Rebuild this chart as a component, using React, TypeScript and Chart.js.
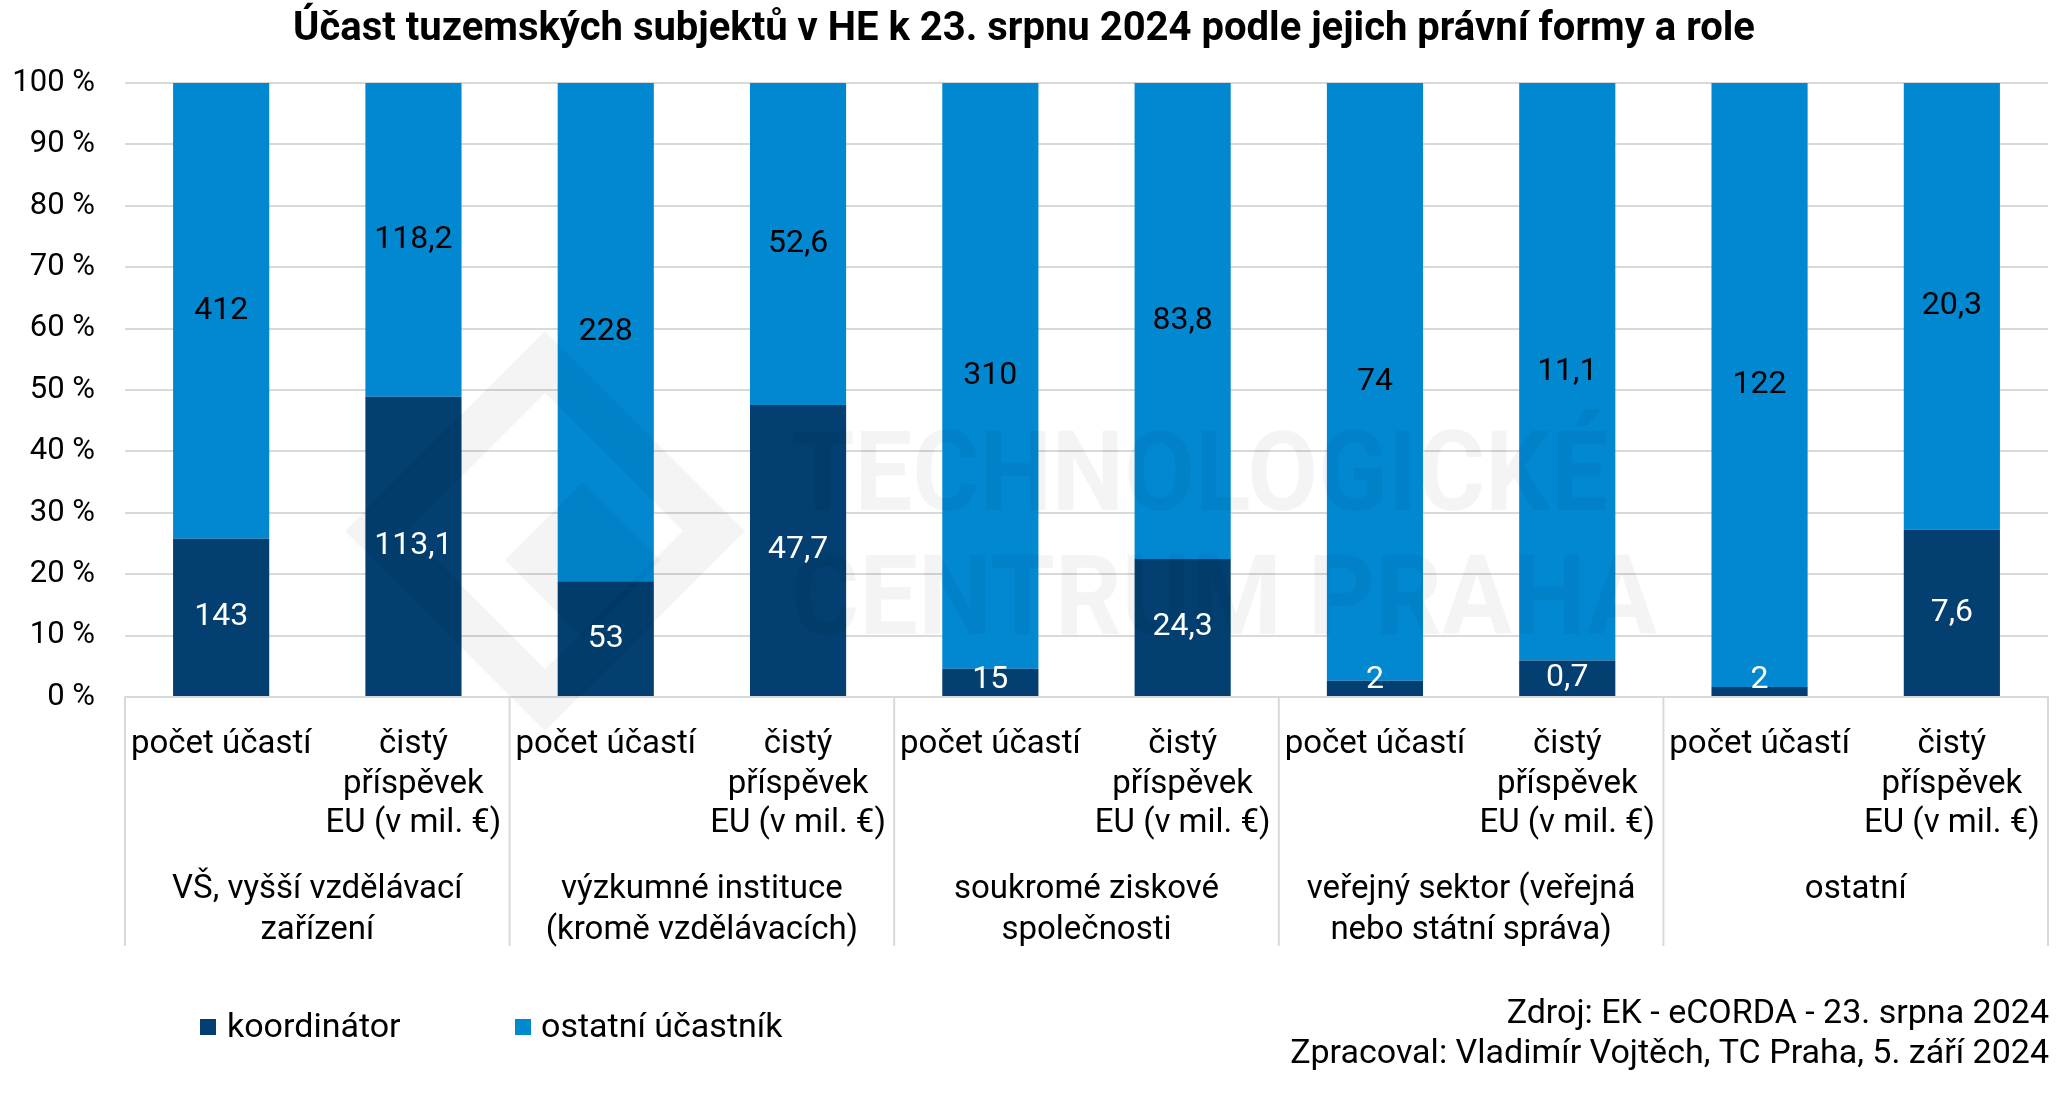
import React, { useEffect, useRef } from "react";
import { Chart, registerables } from "chart.js";

Chart.register(...registerables);

const FONT = "Roboto, 'Noto Sans', 'DejaVu Sans', sans-serif";

// ---- data ----
const titleText = "Účast tuzemských subjektů v HE k 23. srpnu 2024 podle jejich právní formy a role";

const barLabelLines: string[][] = [
  ["počet účastí"], ["čistý", "příspěvek", "EU (v mil. €)"],
  ["počet účastí"], ["čistý", "příspěvek", "EU (v mil. €)"],
  ["počet účastí"], ["čistý", "příspěvek", "EU (v mil. €)"],
  ["počet účastí"], ["čistý", "příspěvek", "EU (v mil. €)"],
  ["počet účastí"], ["čistý", "příspěvek", "EU (v mil. €)"],
];

const groupLabelLines: string[][] = [
  ["VŠ, vyšší vzdělávací", "zařízení"],
  ["výzkumné instituce", "(kromě vzdělávacích)"],
  ["soukromé ziskové", "společnosti"],
  ["veřejný sektor (veřejná", "nebo státní správa)"],
  ["ostatní"],
];

const coordinatorValues = [143, 113.1, 53, 47.7, 15, 24.3, 2, 0.7, 2, 7.6];
const otherValues = [412, 118.2, 228, 52.6, 310, 83.8, 74, 11.1, 122, 20.3];

const yTickValues = [0, 10, 20, 30, 40, 50, 60, 70, 80, 90, 100];

const seriesNames = ["koordinátor", "ostatní účastník"];
const seriesColors = ["#033F70", "#0288D1"];
const seriesLabelColors = ["#FFFFFF", "#000000"];

const sourceLines = [
  "Zdroj: EK - eCORDA - 23. srpna 2024",
  "Zpracoval: Vladimír Vojtěch, TC Praha, 5. září 2024",
];

const watermarkLines = ["TECHNOLOGICKÉ", "CENTRUM PRAHA"];

// ---- derived ----
const totals = coordinatorValues.map((v, i) => v + otherValues[i]);
const coordinatorPct = coordinatorValues.map((v, i) => (v / totals[i]) * 100);
const otherPct = otherValues.map((v, i) => (v / totals[i]) * 100);
const rawBySeries = [coordinatorValues, otherValues];

const fmt = (v: number) => String(v).replace(".", ",");

const GRID = "#D9D9D9";

const overlayPlugin = {
  id: "overlayPlugin",
  afterDatasetsDraw(chart: any) {
    const ctx = chart.ctx as CanvasRenderingContext2D;
    const area = chart.chartArea;
    // watermark
    ctx.save();
    ctx.fillStyle = "rgba(0,0,0,0.045)";
    const cx = 545, cy = 531, R = 200, r = 138;
    ctx.beginPath();
    ctx.moveTo(cx, cy - R); ctx.lineTo(cx + R, cy); ctx.lineTo(cx, cy + R); ctx.lineTo(cx - R, cy); ctx.closePath();
    ctx.moveTo(cx, cy - r); ctx.lineTo(cx - r, cy); ctx.lineTo(cx, cy + r); ctx.lineTo(cx + r, cy); ctx.closePath();
    ctx.fill();
    const ix = 583, iy = 560, ir = 78;
    ctx.beginPath();
    ctx.moveTo(ix, iy - ir); ctx.lineTo(ix + ir, iy); ctx.lineTo(ix, iy + ir); ctx.lineTo(ix - ir, iy); ctx.closePath();
    ctx.fill();
    ctx.font = `bold 112px ${FONT}`;
    ctx.textAlign = "left";
    ctx.textBaseline = "alphabetic";
    const targets = [
      { x: 791, y: 510, w: 817 },
      { x: 791, y: 634, w: 866 },
    ];
    watermarkLines.forEach((t, i) => {
      const m = ctx.measureText(t).width;
      ctx.save();
      ctx.translate(targets[i].x, targets[i].y);
      ctx.scale(targets[i].w / m, 1);
      ctx.fillText(t, 0, 0);
      ctx.restore();
    });
    ctx.restore();

    // data labels
    ctx.save();
    ctx.font = `32px ${FONT}`;
    ctx.textAlign = "center";
    ctx.textBaseline = "middle";
    chart.data.datasets.forEach((_ds: any, di: number) => {
      const meta = chart.getDatasetMeta(di);
      meta.data.forEach((bar: any, i: number) => {
        const p = bar.getProps(["x", "y", "base"], true);
        let y = (p.y + p.base) / 2;
        y = Math.min(y, area.bottom - 17);
        ctx.fillStyle = seriesLabelColors[di];
        ctx.fillText(fmt(rawBySeries[di][i]), p.x, y);
      });
    });
    ctx.restore();
  },
  afterDraw(chart: any) {
    const ctx = chart.ctx as CanvasRenderingContext2D;
    const x = chart.scales.x;
    const area = chart.chartArea;
    const half = (x.getPixelForValue(1) - x.getPixelForValue(0)) / 2;
    ctx.save();
    ctx.strokeStyle = GRID;
    ctx.lineWidth = 2;
    for (let g = 0; g <= groupLabelLines.length; g++) {
      const px = g < groupLabelLines.length
        ? x.getPixelForValue(g * 2) - half
        : x.getPixelForValue(g * 2 - 1) + half;
      ctx.beginPath();
      ctx.moveTo(px, area.bottom);
      ctx.lineTo(px, 946);
      ctx.stroke();
    }
    ctx.fillStyle = "#000";
    ctx.font = `33px ${FONT}`;
    ctx.textAlign = "center";
    ctx.textBaseline = "middle";
    groupLabelLines.forEach((lines, g) => {
      const gx = (x.getPixelForValue(g * 2) + x.getPixelForValue(g * 2 + 1)) / 2;
      lines.forEach((t, li) => ctx.fillText(t, gx, 890 + li * 41));
    });
    ctx.font = `34px ${FONT}`;
    const legendPos = [
      { bx: 200, tx: 227 },
      { bx: 515, tx: 541 },
    ];
    seriesNames.forEach((n, i) => {
      ctx.fillStyle = seriesColors[i];
      ctx.fillRect(legendPos[i].bx, 1019, 16, 16);
      ctx.fillStyle = "#000";
      ctx.textAlign = "left";
      ctx.fillText(n, legendPos[i].tx, 1028);
    });
    ctx.textAlign = "right";
    sourceLines.forEach((t, i) => ctx.fillText(t, 2049, 1014 + i * 40));
    ctx.restore();
  },
};

export default function App() {
  const ref = useRef<HTMLCanvasElement | null>(null);
  useEffect(() => {
    if (!ref.current) return;
    const chart = new Chart(ref.current, {
      type: "bar",
      data: {
        labels: barLabelLines as any,
        datasets: [
          {
            label: seriesNames[0],
            data: coordinatorPct,
            backgroundColor: seriesColors[0],
            barPercentage: 0.5,
            categoryPercentage: 1,
          },
          {
            label: seriesNames[1],
            data: otherPct,
            backgroundColor: seriesColors[1],
            barPercentage: 0.5,
            categoryPercentage: 1,
          },
        ],
      },
      options: {
        responsive: false,
        animation: false,
        devicePixelRatio: 1,
        layout: { padding: { top: 0, left: 0, right: 17, bottom: 0 } },
        plugins: {
          legend: { display: false },
          tooltip: { enabled: false },
          title: {
            display: true,
            text: titleText,
            color: "#000",
            font: { family: FONT, size: 40, weight: "bold" },
            padding: { top: 6, bottom: 29 },
          },
        },
        scales: {
          x: {
            stacked: true,
            grid: { display: false, drawTicks: false },
            border: { display: true, color: GRID, width: 2 },
            ticks: {
              autoSkip: false,
              maxRotation: 0,
              minRotation: 0,
              padding: 28,
              color: "#000",
              font: { family: FONT, size: 33, lineHeight: 1.2 },
            },
            afterFit: (s: any) => {
              s.height = 398;
              s.paddingLeft = 0;
              s.paddingRight = 0;
            },
          },
          y: {
            stacked: true,
            min: 0,
            max: 100,
            afterBuildTicks: (s: any) => {
              s.ticks = yTickValues.map((v) => ({ value: v }));
            },
            grid: { color: GRID, lineWidth: 2, drawTicks: false },
            border: { display: false },
            ticks: {
              padding: 30,
              color: "#000",
              font: { family: FONT, size: 31 },
              callback: (v: any) => `${v} %`,
            },
            afterFit: (s: any) => {
              s.width = 125;
            },
          },
        },
      },
      plugins: [overlayPlugin],
    });
    return () => chart.destroy();
  }, []);
  return (
    <div style={{ position: "absolute", left: 0, top: 0, width: 2065, height: 1095, background: "#fff" }}>
      <canvas ref={ref} width={2065} height={1095} style={{ display: "block", width: 2065, height: 1095 }} />
    </div>
  );
}
